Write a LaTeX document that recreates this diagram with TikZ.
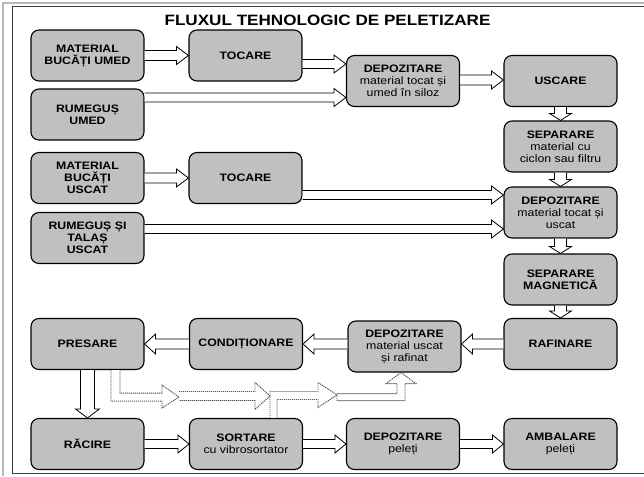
\documentclass[tikz,border=0pt]{standalone}
\usepackage{fontspec}
\setmainfont{Liberation Sans}[FakeStretch=1.14]
\usetikzlibrary{calc}
\definecolor{boxgray}{RGB}{192,192,192}
\definecolor{dotgray}{RGB}{80,80,80}
% horizontal block arrow: [opts]{start}{tip}{half shaft}{half head}{head length (signed)}
\newcommand\harr[6][]{%
  \coordinate (hS) at #2; \coordinate (hT) at #3;
  \draw[barrow,#1] ($(hS)+(0,-#4)$) -- ($(hT)+({-1*(#6)},-#4)$) -- ($(hT)+({-1*(#6)},-#5)$) -- (hT)
    -- ($(hT)+({-1*(#6)},#5)$) -- ($(hT)+({-1*(#6)},#4)$) -- ($(hS)+(0,#4)$);}
% vertical block arrow
\newcommand\varr[6][]{%
  \coordinate (vS) at #2; \coordinate (vT) at #3;
  \draw[barrow,#1] ($(vS)+(-#4,0)$) -- ($(vT)+(-#4,{-1*(#6)})$) -- ($(vT)+(-#5,{-1*(#6)})$) -- (vT)
    -- ($(vT)+(#5,{-1*(#6)})$) -- ($(vT)+(#4,{-1*(#6)})$) -- ($(vS)+(#4,0)$);}
\begin{document}
\begin{tikzpicture}[x=1pt,y=-1pt,
  box/.style={draw=black, line width=1.1pt, fill=boxgray, rounded corners=8pt,
    minimum width=113pt, minimum height=51pt, inner sep=1pt, align=center,
    font=\fontsize{10.8}{12}\selectfont},
  barrow/.style={draw=black, line width=0.8pt, fill=white, line join=miter},
  dotarrow/.style={draw=dotgray, dash pattern=on 1.2pt off 0.8pt, line width=0.9pt, fill=white},
  titlefont/.style={font=\fontsize{15}{16}\selectfont\bfseries}]
\useasboundingbox (0,0) rectangle (644,476);
% frame
\draw[gray!55, line width=1.2pt] (3,476) -- (3,3) -- (644,3);
\draw[black!75, line width=1pt] (644,7) -- (12,7) -- (12,473) -- (644,473);
% title
\node[titlefont] (title) at (327.5,20) {FLUXUL TEHNOLOGIC DE PELETIZARE};
% boxes
\node[box] (mbu)  at (87.5,55.5)  {\textbf{MATERIAL}\\\textbf{BUCĂȚI UMED}};
\node[box] (toc1) at (245.5,55.5) {\textbf{TOCARE}};
\node[box] (rum)  at (87.5,114.5) {\textbf{RUMEGUȘ}\\\textbf{UMED}};
\node[box] (dep1) at (403,81)     {\textbf{DEPOZITARE}\\material tocat și\\umed în siloz};
\node[box] (usc)  at (560.5,81)   {\textbf{USCARE}};
\node[box] (sep)  at (560.5,146.5){\textbf{SEPARARE}\\material cu\\ciclon sau filtru};
\node[box] (mbus) at (87.5,178)   {\textbf{MATERIAL}\\\textbf{BUCĂȚI}\\\textbf{USCAT}};
\node[box] (toc2) at (245.5,178)  {\textbf{TOCARE}};
\node[box] (rts)  at (87.5,238)   {\textbf{RUMEGUȘ ȘI}\\\textbf{TALAȘ}\\\textbf{USCAT}};
\node[box] (dep2) at (560.5,212.5){\textbf{DEPOZITARE}\\material tocat și\\uscat};
\node[box] (sepm) at (560.5,279.5){\textbf{SEPARARE}\\\textbf{MAGNETICĂ}};
\node[box] (raf)  at (560.5,344)  {\textbf{RAFINARE}};
\node[box] (dep3) at (404.5,346.5){\textbf{DEPOZITARE}\\material uscat\\și rafinat};
\node[box] (cond) at (246,344)    {\textbf{CONDIȚIONARE}};
\node[box] (pres) at (87.5,344)   {\textbf{PRESARE}};
\node[box] (rac)  at (87.5,444)   {\textbf{RĂCIRE}};
\node[box] (sort) at (246,444)    {\textbf{SORTARE}\\cu vibrosortator};
\node[box] (dep4) at (403,444)    {\textbf{DEPOZITARE}\\peleți};
\node[box] (amb)  at (560.5,444)  {\textbf{AMBALARE}\\peleți};
% solid block arrows
\harr{(mbu.east)}{(hS -| toc1.west)}{5}{9}{12}
\harr{($(toc1.east)+(0,8.5)$)}{(hS -| dep1.west)}{4.5}{9}{12}
\harr{($(rum.east)+(0,-17)$)}{(hS -| dep1.west)}{4.5}{9}{12}
\harr{($(dep1.east)+(0,-1)$)}{(hS -| usc.west)}{5}{9}{12}
\varr{(usc.south)}{(sep.north)}{6}{11}{7}
\varr{(sep.south)}{(dep2.north)}{6}{11}{7}
\harr{(mbus.east)}{(hS -| toc2.west)}{5}{9}{12}
\harr{($(toc2.east)+(0,17)$)}{(hS -| dep2.west)}{4.5}{9}{12}
\harr{($(rts.east)+(0,-9)$)}{(hS -| dep2.west)}{4.5}{9}{12}
\varr{(dep2.south)}{(sepm.north)}{6}{11}{7}
\varr{(sepm.south)}{(raf.north)}{6}{11}{7}
\harr{(raf.west)}{(hS -| dep3.east)}{5}{10}{-11}
\harr{(dep3.west |- raf.west)}{(hS -| cond.east)}{5}{10}{-11}
\harr{(cond.west)}{(hS -| pres.east)}{5}{10}{-11}
\varr{(pres.south)}{(rac.north)}{7}{12}{9}
\harr{(rac.east)}{(hS -| sort.west)}{4.5}{9}{11}
\harr{(sort.east)}{(hS -| dep4.west)}{4.5}{9}{11}
\harr{(dep4.east)}{(hS -| amb.west)}{4.5}{9}{11}
% dotted block arrows (return of fines)
\coordinate (dA) at ($(pres.south)+(23.5,0)$);
\draw[dotarrow] (dA) -- ++(0,31) -- ++(51,0) -- ++(0,7) -- ++(17,-11) -- ++(-17,-12)
  -- ++(0,8) -- ++(-42,0) -- ++(0,-23);
\coordinate (dB) at ($(sort.north)+(-67,-26.5)$);
\draw[dotarrow] (dB) -- ++(76,0) -- ++(0,-9) -- ++(15,13.5) -- ++(-15,13.5) -- ++(0,-9) -- ++(-76,0);
\coordinate (dC) at ($(sort.north)+(24,0)$);
\draw[dotarrow] (dC) -- ++(0,-26.5) -- ++(48,0) -- ++(0,-9) -- ++(19,12.5) -- ++(-19,12.5)
  -- ++(0,-8) -- ++(-41,0) -- ++(0,18.5);
\coordinate (dT) at ($(dep3.south)+(-3.5,0)$);
\draw[dotarrow] (dT) -- ++(15,11) -- ++(-11,0) -- ++(0,17) -- ++(-68,0) -- ++(0,-7)
  -- ++(60,0) -- ++(0,-10) -- ++(-11,0) -- cycle;
\end{tikzpicture}
\end{document}
